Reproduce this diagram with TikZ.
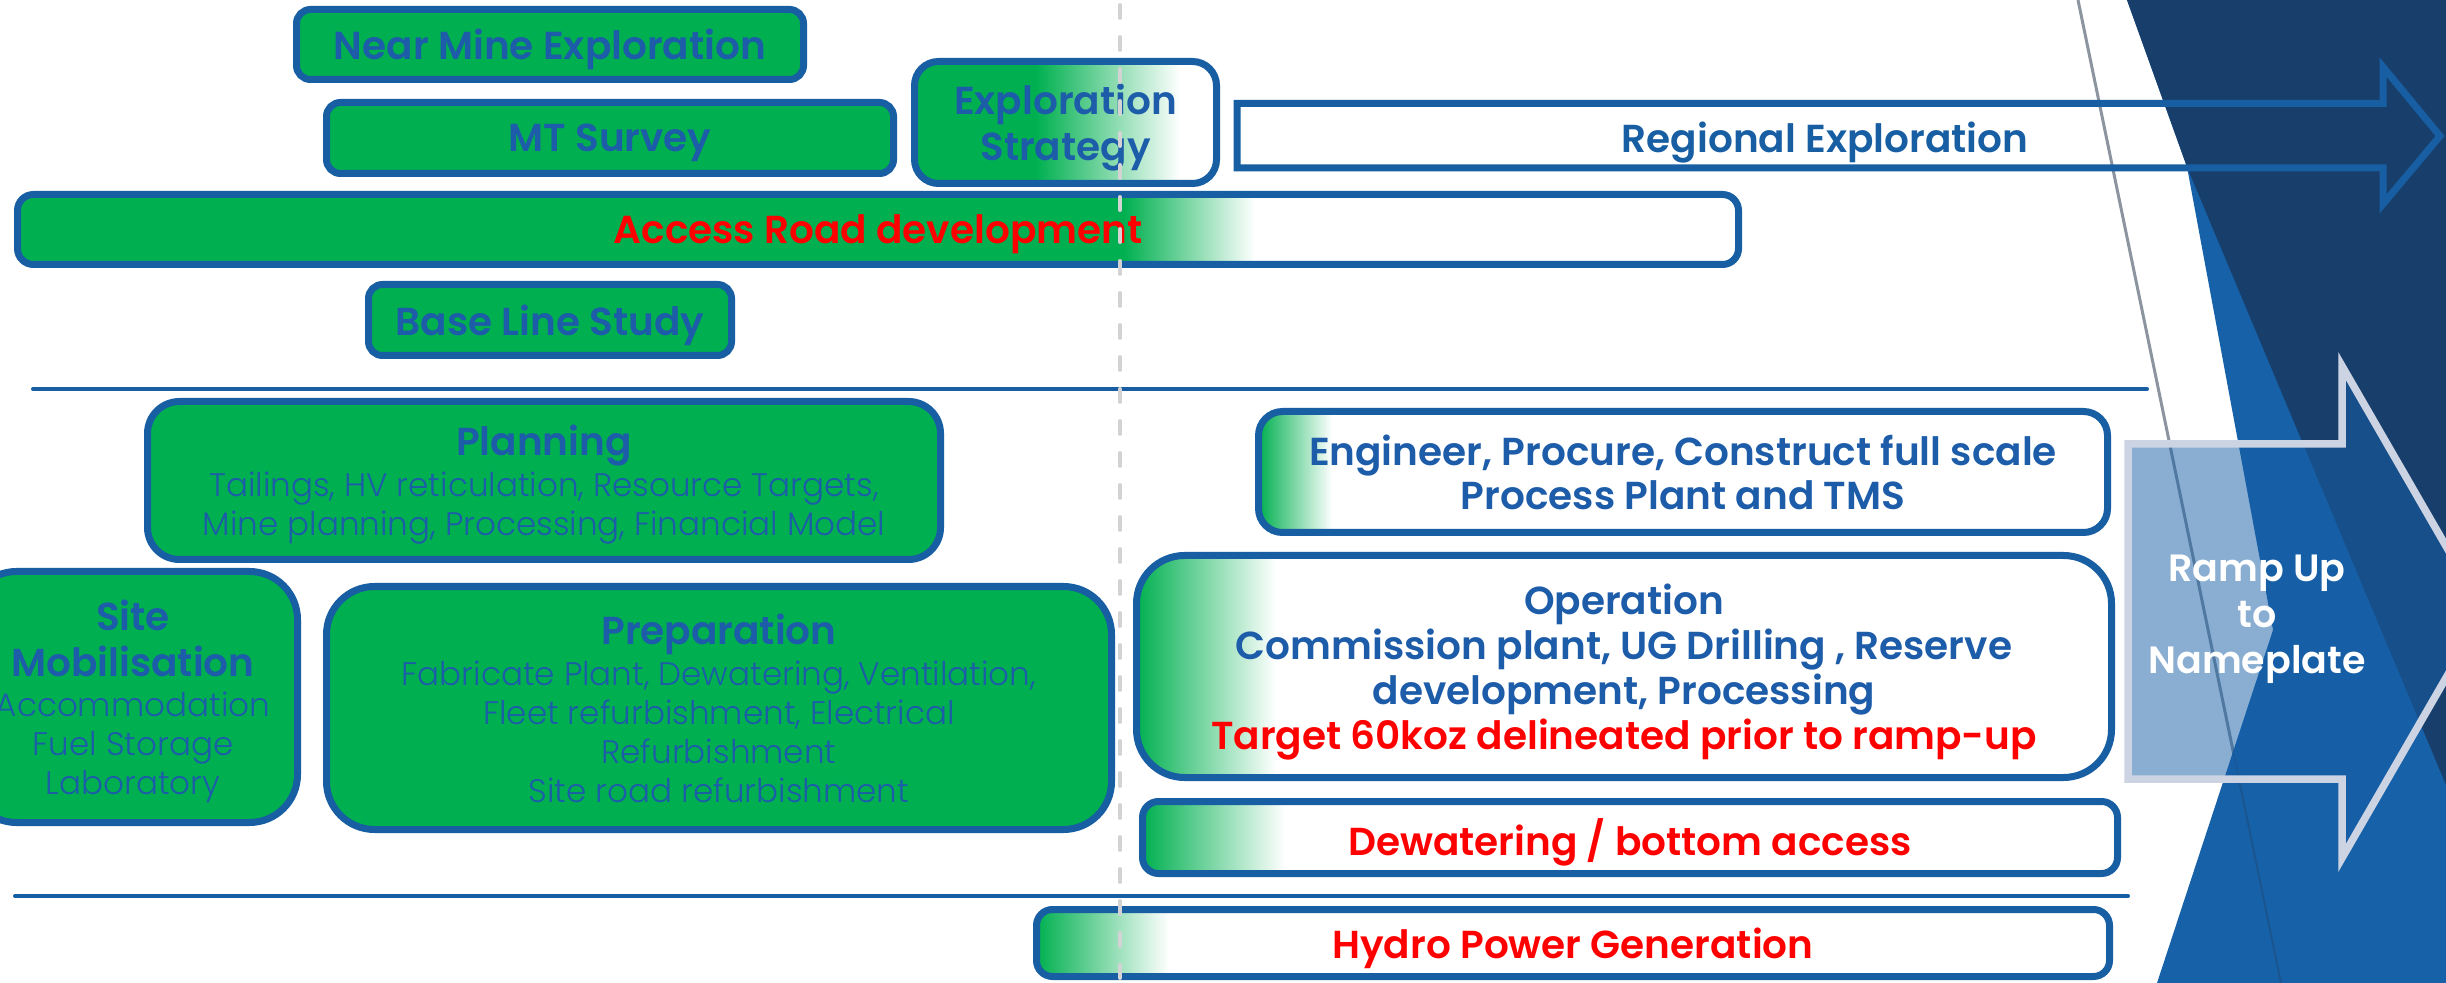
\documentclass[tikz,border=0pt]{standalone}
\usepackage{fontspec}
\newfontfamily\bfam{Poppins SemiBold}
\newfontfamily\lfam{Poppins Light}
\pgfdeclarelayer{deco}
\pgfdeclarelayer{fills}
\pgfdeclarelayer{front}
\pgfsetlayers{deco,fills,main,front}
\definecolor{pgreen}{HTML}{00B050}
\definecolor{bblue}{HTML}{175EA3}
\definecolor{tblue}{HTML}{1C5CA9}
\definecolor{navy}{HTML}{183F6C}
\definecolor{bright}{HTML}{1661A8}
\definecolor{glin}{HTML}{8C959F}
\definecolor{glinb}{HTML}{1A5590}
\definecolor{dashc}{HTML}{D3D3D3}
\definecolor{rampb}{HTML}{CCD3E3}
\definecolor{rampf}{HTML}{165FA6}
\newcommand\ttl[1]{{\bfam\fontsize{19.5}{23}\selectfont #1}}
\tikzset{
  gbox/.style={draw=bblue, line width=3.5pt, rounded corners=#1, inner sep=0pt, outer sep=0pt, align=center, text=tblue, text depth=0pt},
  gbox/.default=7pt,
  bold/.style={font=\bfam\fontsize{19.5}{23}\selectfont},
  body/.style={font=\lfam\fontsize{16.3}{19.5}\selectfont},
}
\begin{document}
\begin{tikzpicture}[x=0.5pt,y=-0.5pt]
\path[use as bounding box, clip] (0,0) rectangle (2446,983);
\begin{pgfonlayer}{deco}
\fill[white] (0,0) rectangle (2446,983);
\draw[glin, line width=1.5pt] (2078,0) -- (2281,983);
\fill[bright] (2127,0) -- (2446,0) -- (2446,983) -- (2157,983) -- (2273,630) -- (2187,167) -- cycle;
\fill[navy] (2127,0) -- (2446,0) -- (2446,785) -- (2187,167) -- cycle;
\begin{scope}
\clip (2127,0) -- (2446,0) -- (2446,983) -- (2157,983) -- (2273,630) -- (2187,167) -- cycle;
\draw[glinb, line width=1pt] (2078,0) -- (2281,983);
\end{scope}
\end{pgfonlayer}

% top section
\node[gbox, bold, fill=pgreen, minimum width=253.5pt, minimum height=35pt] (nearmine) at (550,44.5) {Near Mine Exploration};
\node[gbox, bold, fill=pgreen, minimum width=283.5pt, minimum height=35.5pt] (mt) at (610,138) {MT Survey};
\node[gbox=12pt, bold, minimum width=151pt, minimum height=61pt] (expl) at (1065.5,122.5) {Exploration\\Strategy};
\node[gbox=8pt, bold, text=red, minimum width=860.5pt, minimum height=35pt] (access) at (878,229.5) {Access Road development};
\node[gbox, bold, fill=pgreen, minimum width=181.5pt, minimum height=35.5pt] (base) at (550,320) {Base Line Study};

\node[bold, text=bblue, text depth=0pt] (regional) at (1825,137) {Regional Exploration};
\draw[bblue, line width=3.5pt] (1237,103.5) -- (2383,103.5) -- (2383,67) -- (2440,136) -- (2383,204) -- (2383,168) -- (1237,168) -- cycle;

\draw[bblue, line width=2pt, line cap=round] (33,389) -- (2147,389);

% middle section
\node[gbox=16pt, body, fill=pgreen, minimum width=396.5pt, minimum height=79pt] (planning) at (544,480.5)
  {\ttl{Planning}\\[1pt]Tailings, HV reticulation, Resource Targets,\\Mine planning, Processing, Financial Model};
\node[gbox=24pt, body, fill=pgreen, minimum width=164.5pt, minimum height=125.5pt] (site) at (133,697)
  {\ttl{Site}\\[3.5pt]\ttl{Mobilisation}\\[0.5pt]Accommodation\\Fuel Storage\\Laboratory};
\node[gbox=24pt, body, fill=pgreen, minimum width=392.5pt, minimum height=121.5pt] (prep) at (719,708)
  {\ttl{Preparation}\\[1pt]Fabricate Plant, Dewatering, Ventilation,\\Fleet refurbishment, Electrical\\Refurbishment\\Site road refurbishment};

\node[gbox=12pt, font=\bfam\fontsize{19.5}{22}\selectfont, minimum width=424.5pt, minimum height=60.5pt] (eng) at (1683,472)
  {Engineer, Procure, Construct full scale\\Process Plant and TMS};
\node[gbox=24pt, font=\bfam\fontsize{19.5}{22.5}\selectfont, minimum width=487.5pt, minimum height=111pt] (oper) at (1624,666.5)
  {Operation\\Commission plant, UG Drilling , Reserve\\development, Processing\\\textcolor{red}{Target 60koz delineated prior to ramp-up}};
\node[gbox=8pt, bold, text=red, minimum width=487.5pt, minimum height=36pt] (dewat) at (1630,837.5) {Dewatering / bottom access};

\draw[rampb, line width=3.75pt, fill=rampf, fill opacity=0.5] (2128,444) -- (2342,444) -- (2342,366) -- (2484,612) -- (2342,858) -- (2342,779) -- (2128,779) -- cycle;
\node[font=\bfam\fontsize{19}{23}\selectfont, text=white, align=center, text depth=0pt] (ramp) at (2257,614) {Ramp Up\\to\\Nameplate};

\draw[bblue, line width=2pt, line cap=round] (15,896) -- (2128,896);

\node[gbox=8pt, bold, text=red, minimum width=536.5pt, minimum height=33.5pt] (hydro) at (1573,943) {Hydro Power Generation};

% gradient fills
\begin{pgfonlayer}{fills}
\begin{scope}
\clip[rounded corners=12pt] (expl.south west) rectangle (expl.north east);
\fill[pgreen] (expl.south west) rectangle (1036,0 |- expl.north);
\shade[left color=pgreen, right color=white] (1036,0 |- expl.south) rectangle (1180,0 |- expl.north);
\end{scope}
\begin{scope}
\clip[rounded corners=8pt] (access.south west) rectangle (access.north east);
\fill[pgreen] (access.south west) rectangle (1124,0 |- access.north);
\shade[left color=pgreen, right color=white] (1124,0 |- access.south) rectangle (1255,0 |- access.north);
\end{scope}
\begin{scope}
\clip[rounded corners=12pt] (eng.south west) rectangle (eng.north east);
\shade[left color=pgreen, right color=white] (eng.south west) rectangle (1332,0 |- eng.north);
\end{scope}
\begin{scope}
\clip[rounded corners=24pt] (oper.south west) rectangle (oper.north east);
\shade[left color=pgreen, right color=white] (oper.south west) rectangle (1276,0 |- oper.north);
\end{scope}
\begin{scope}
\clip[rounded corners=8pt] (dewat.south west) rectangle (dewat.north east);
\shade[left color=pgreen, right color=white] (dewat.south west) rectangle (1285,0 |- dewat.north);
\end{scope}
\begin{scope}
\clip[rounded corners=8pt] (hydro.south west) rectangle (hydro.north east);
\shade[left color=pgreen, right color=white] (hydro.south west) rectangle (1169,0 |- hydro.north);
\end{scope}
\end{pgfonlayer}

\begin{pgfonlayer}{front}
\draw[dashc, line width=2pt, line cap=round, dash pattern=on 6.5pt off 9.5pt] (1120,5) -- (1120,983);
\end{pgfonlayer}
\end{tikzpicture}
\end{document}
